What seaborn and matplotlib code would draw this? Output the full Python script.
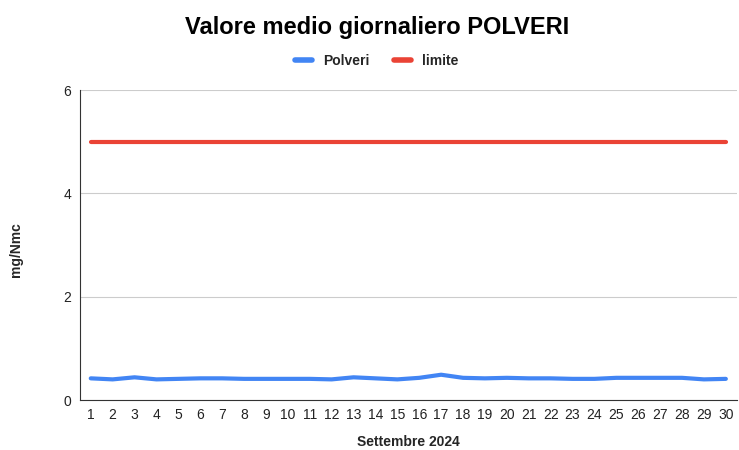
import numpy as np
import pandas as pd
import matplotlib
matplotlib.use("Agg")
import matplotlib.pyplot as plt
import seaborn as sns
from matplotlib.lines import Line2D

# Data
days = list(range(1, 31))
polveri = [0.42, 0.40, 0.44, 0.40, 0.41, 0.42, 0.42, 0.41, 0.41, 0.41,
           0.41, 0.40, 0.44, 0.42, 0.40, 0.43, 0.49, 0.43, 0.42, 0.43,
           0.42, 0.42, 0.41, 0.41, 0.43, 0.43, 0.43, 0.43, 0.40, 0.41]
limite = [5] * 30

df = pd.DataFrame({"Giorno": days, "Polveri": polveri, "limite": limite})
long_df = df.melt(id_vars="Giorno", var_name="Serie", value_name="Valore")

sns.set_style("white")
plt.rcParams["font.family"] = ["Liberation Sans", "DejaVu Sans"]

fig = plt.figure(figsize=(7.39, 4.5), dpi=100)
ax = fig.add_axes([0.108, 0.111, 0.889, 0.689])

sns.lineplot(data=long_df, x="Giorno", y="Valore", hue="Serie",
             palette={"Polveri": "#4285F4", "limite": "#EA4335"},
             linewidth=3, ax=ax, legend=False)

ax.set_xlim(0.5, 30.5)
ax.set_ylim(0, 6)
ax.set_xticks(days)
ax.set_xticklabels([str(d) for d in days], fontsize=10, color="#222222")
ax.set_yticks([0, 2, 4, 6])
ax.set_yticklabels(["0", "2", "4", "6"], fontsize=10, color="#222222")
ax.tick_params(axis="both", length=0, pad=6)
ax.yaxis.grid(True, color="#cccccc", linewidth=0.8)
ax.set_axisbelow(True)

for s in ["top", "right"]:
    ax.spines[s].set_visible(False)
ax.spines["left"].set_color("#333333")
ax.spines["bottom"].set_color("#333333")

ax.set_xlabel("")
ax.set_ylabel("")
fig.text(0.552, 0.018, "Settembre 2024", ha="center", va="center",
         fontsize=10, fontweight="bold")
fig.text(0.021, 0.445, "mg/Nmc", ha="center", va="center", rotation=90,
         fontsize=10, fontweight="bold")

fig.suptitle("Valore medio giornaliero POLVERI", x=0.51, y=0.965,
             fontsize=17, fontweight="bold", color="#000000")

# legend
handles = [Line2D([0], [0], color="#4285F4", lw=4),
           Line2D([0], [0], color="#EA4335", lw=4)]
fig.legend(handles, ["Polveri", "limite"], loc="center",
           bbox_to_anchor=(0.51, 0.864), ncol=2, frameon=False,
           handlelength=1.2, columnspacing=1.8,
           prop={"weight": "bold", "size": 10})

fig.savefig("out.png", dpi=100)
